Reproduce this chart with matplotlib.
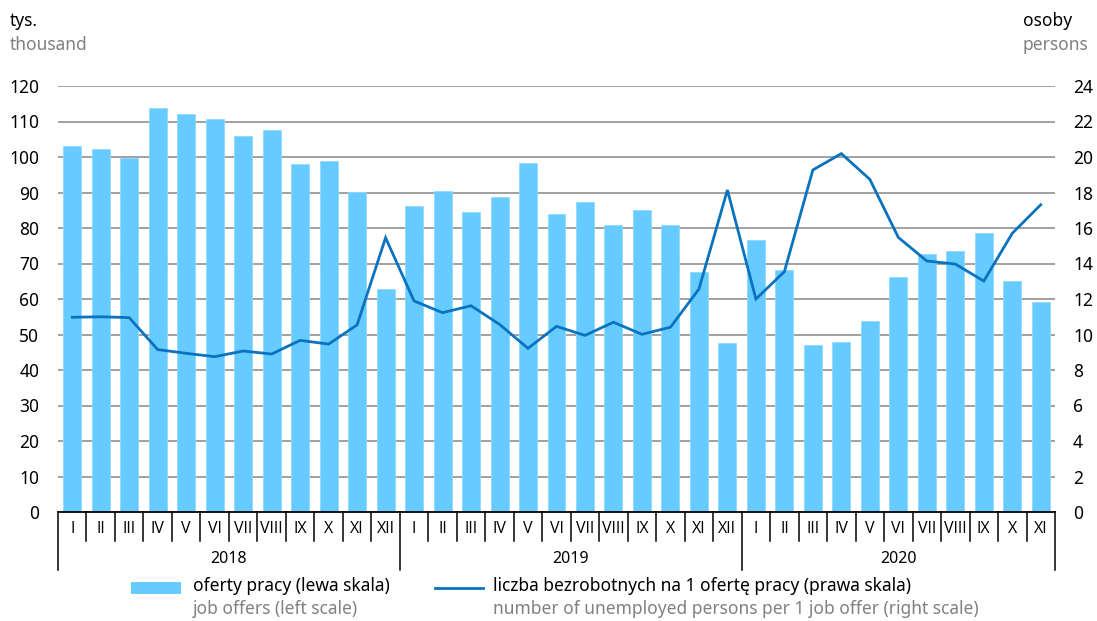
import matplotlib
matplotlib.use("Agg")
import matplotlib.pyplot as plt
from matplotlib.patches import Rectangle
from matplotlib.lines import Line2D
import matplotlib.transforms as mtransforms

plt.rcParams['font.family'] = ['Noto Sans', 'DejaVu Sans']

years = ["2018", "2019", "2020"]
months_per_year = [12, 12, 11]
month_labels = ["I", "II", "III", "IV", "V", "VI", "VII", "VIII", "IX", "X", "XI", "XII"]

job_offers = [103.2, 102.3, 99.7, 113.7, 112.0, 110.6, 105.9, 107.5, 98.0, 99.0, 90.2, 62.7,
              86.1, 90.3, 84.5, 88.7, 98.3, 83.9, 87.2, 80.8, 85.1, 80.8, 67.6, 47.6,
              76.7, 68.1, 47.1, 47.8, 53.9, 66.3, 72.8, 73.6, 78.6, 65.0, 59.2]
unemployed_per_offer = [10.97, 11.0, 10.95, 9.15, 8.94, 8.75, 9.07, 8.9, 9.67, 9.46, 10.54, 15.45,
                        11.89, 11.23, 11.62, 10.57, 9.22, 10.46, 9.95, 10.69, 10.01, 10.41, 12.56, 18.14,
                        12.0, 13.54, 19.27, 20.19, 18.74, 15.47, 14.14, 13.97, 13.01, 15.70, 17.31]

left_ticks = [0, 10, 20, 30, 40, 50, 60, 70, 80, 90, 100, 110, 120]
right_ticks = [0, 2, 4, 6, 8, 10, 12, 14, 16, 18, 20, 22, 24]

legend_pl = ["oferty pracy (lewa skala)", "liczba bezrobotnych na 1 ofertę pracy (prawa skala)"]
legend_en = ["job offers (left scale)", "number of unemployed persons per 1 job offer (right scale)"]

BAR = "#66CCFF"
LINE = "#0A73BF"
GRID = "#9A9A9A"
GRAYTXT = "#808080"

W, H = 1097, 621
fig = plt.figure(figsize=(W / 100, H / 100), dpi=100)

def fx(px):
    return px / W

def fy(py):
    return 1 - py / H

ax_l, ax_r, ax_t, ax_b = 58, 1055, 86, 512
ax = fig.add_axes([fx(ax_l), fy(ax_b), fx(ax_r - ax_l), (ax_b - ax_t) / H])
n = len(job_offers)
x = list(range(n))
ax.bar(x, job_offers, width=0.63, color=BAR, edgecolor="#8FDAFF", linewidth=0.6, zorder=2)
ax.set_xlim(-0.5, n - 0.5)
ax.set_ylim(0, 120)
ax.set_yticks(left_ticks)
ax.set_yticklabels([str(t) for t in left_ticks], fontsize=12.5)
ax.tick_params(axis='y', length=0, pad=13.5)
ax.set_xticks([])
for t in left_ticks[1:]:
    ax.axhline(t, color=GRID, linewidth=1.3, zorder=1)
for s in ['top', 'right', 'left']:
    ax.spines[s].set_visible(False)
ax.spines['bottom'].set_color('black')
ax.spines['bottom'].set_linewidth(1.3)
ax.spines['bottom'].set_zorder(5)

ax2 = ax.twinx()
ax2.plot(x, unemployed_per_offer, color=LINE, linewidth=2.0, zorder=3, solid_joinstyle='miter')
ax2.set_ylim(0, 24)
ax2.set_yticks(right_ticks)
ax2.set_yticklabels([str(t) for t in right_ticks], fontsize=12.5)
ax2.tick_params(axis='y', length=0, pad=13)
for s in ['top', 'right', 'left', 'bottom']:
    ax2.spines[s].set_visible(False)

# x-axis category structure
trans = mtransforms.blended_transform_factory(ax.transData, ax.transAxes)
h = ax_b - ax_t
def ay(py):
    return -(py - ax_b) / h

idx = 0
boundaries = [-0.5]
for yi, (yr, nm) in enumerate(zip(years, months_per_year)):
    for m in range(nm):
        ax.text(idx, ay(529), month_labels[m], transform=trans, ha='center', va='center',
                fontsize=11.5, family=['Open Sans', 'DejaVu Sans'])
        idx += 1
        if m < nm - 1:
            ax.plot([idx - 0.5, idx - 0.5], [0, ay(541)], transform=trans, color='black',
                    linewidth=1.1, clip_on=False)
    start = boundaries[-1]
    boundaries.append(idx - 0.5)
    ax.text((start + idx - 0.5) / 2, ay(559), yr, transform=trans, ha='center', va='center', fontsize=11.5)
for b in boundaries:
    ax.plot([b, b], [0, ay(570)], transform=trans, color='black', linewidth=1.1, clip_on=False)

# axis titles
fig.text(fx(10), fy(21), "tys.", ha='left', va='center', fontsize=12.5)
fig.text(fx(10), fy(45), "thousand", ha='left', va='center', fontsize=12.5, color=GRAYTXT)
fig.text(fx(1023), fy(21), "osoby", ha='left', va='center', fontsize=12.5)
fig.text(fx(1023), fy(45), "persons", ha='left', va='center', fontsize=12.5, color=GRAYTXT)

# legend
fig.patches.append(Rectangle((fx(131), fy(594)), fx(50), 12 / H, transform=fig.transFigure,
                             facecolor=BAR, edgecolor='none'))
fig.text(fx(193), fy(586), legend_pl[0], ha='left', va='center', fontsize=12.5)
fig.text(fx(193), fy(609), legend_en[0], ha='left', va='center', fontsize=12.5, color=GRAYTXT)
fig.lines.append(Line2D([fx(435), fx(483)], [fy(588), fy(588)], transform=fig.transFigure,
                        color=LINE, linewidth=2.0))
fig.text(fx(493), fy(586), legend_pl[1], ha='left', va='center', fontsize=12.5)
fig.text(fx(493), fy(609), legend_en[1], ha='left', va='center', fontsize=12.5, color=GRAYTXT)

fig.savefig("out.png", dpi=100)
